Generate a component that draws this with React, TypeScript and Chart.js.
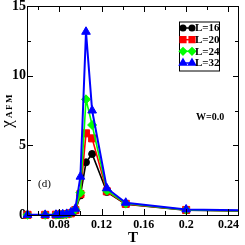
import React, { useEffect, useRef } from 'react';
import { Chart, registerables } from 'chart.js';
import { drawPoint } from 'chart.js/helpers';

Chart.register(...registerables);

const T_VALUES = [0.05, 0.0667, 0.0769, 0.08, 0.0833, 0.087, 0.0909, 0.0952, 0.1, 0.1053, 0.1111, 0.125, 0.1429, 0.2, 0.3333];
const CHI_L16 = [0.01, 0.01, 0.02, 0.02, 0.03, 0.05, 0.1, 0.3, 1.4, 3.78, 4.38, 1.65, 0.78, 0.35, 0.2];
const CHI_L20 = [0.01, 0.01, 0.02, 0.03, 0.04, 0.06, 0.12, 0.35, 1.5, 5.86, 5.5, 1.7, 0.8, 0.36, 0.2];
const CHI_L24 = [0.01, 0.01, 0.02, 0.03, 0.04, 0.07, 0.15, 0.4, 1.6, 8.3, 6.46, 1.75, 0.82, 0.37, 0.2];
const CHI_L32 = [0.01, 0.01, 0.02, 0.03, 0.05, 0.08, 0.18, 0.45, 2.75, 13.15, 7.5, 1.92, 0.88, 0.4, 0.22];

const SERIES_LABELS = ['L=16', 'L=20', 'L=24', 'L=32'];
const SERIES_DATA = [CHI_L16, CHI_L20, CHI_L24, CHI_L32];
const SERIES_COLORS = ['#000000', '#ff0000', '#00ff00', '#0000ff'];
const SERIES_STYLES = ['circle', 'rect', 'rectRot', 'triangle'];
const SERIES_RADII = [3.5, 5, 4.5, 5];

const X_TICKS = [0.06, 0.08, 0.1, 0.12, 0.14, 0.16, 0.18, 0.2, 0.22, 0.24];
const X_TICK_LABELS = ['0.08', '0.12', '0.16', '0.2', '0.24'];
const Y_TICKS = [0, 2.5, 5, 7.5, 10, 12.5, 15];
const Y_TICK_LABELS = ['0', '5', '10', '15'];

const SERIF = '"Liberation Serif", "Times New Roman", serif';

const framePlugin = {
  id: 'frame',
  afterDraw(chart: any) {
    const { ctx, chartArea: ca, scales } = chart;
    const xs = scales.x;
    const ys = scales.y;
    ctx.save();
    ctx.strokeStyle = '#000';
    ctx.lineWidth = 1;
    ctx.strokeRect(ca.left + 0.5, ca.top + 0.5, ca.right - ca.left - 1, ca.bottom - ca.top);
    ctx.beginPath();
    X_TICKS.forEach((v) => {
      const px = Math.round(xs.getPixelForValue(v)) + 0.5;
      const len = X_TICK_LABELS.includes(String(v)) ? 6 : 4;
      ctx.moveTo(px, ca.bottom);
      ctx.lineTo(px, ca.bottom - len);
      ctx.moveTo(px, ca.top);
      ctx.lineTo(px, ca.top + len);
    });
    Y_TICKS.forEach((v) => {
      const py = Math.round(ys.getPixelForValue(v)) + 0.5;
      const len = Y_TICK_LABELS.includes(String(v)) ? 6 : 4;
      ctx.moveTo(ca.left, py);
      ctx.lineTo(ca.left + len, py);
      ctx.moveTo(ca.right, py);
      ctx.lineTo(ca.right - len, py);
    });
    ctx.stroke();

    // annotations
    ctx.fillStyle = '#000';
    ctx.textBaseline = 'middle';
    ctx.textAlign = 'left';
    ctx.font = `11px ${SERIF}`;
    ctx.fillText('(d)', 38, 184);
    ctx.font = `bold 10px ${SERIF}`;
    ctx.fillText('W=0.0', 196, 117);

    // y axis title
    ctx.save();
    ctx.translate(8, 124);
    ctx.rotate(-Math.PI / 2);
    ctx.textAlign = 'center';
    ctx.font = `17px ${SERIF}`;
    ctx.fillText('\u03c7', 0, 0);
    ctx.textAlign = 'left';
    ctx.font = `bold 9px ${SERIF}`;
    (ctx as any).letterSpacing = '1.5px';
    ctx.fillText('AFM', 6, 2);
    ctx.restore();

    // legend
    const bx = 179, by = 21.5, bw = 40, bh = 49;
    ctx.fillStyle = '#fff';
    ctx.fillRect(bx, by, bw, bh);
    ctx.strokeStyle = '#000';
    ctx.lineWidth = 1;
    ctx.strokeRect(bx + 0.5, by + 0.5, bw, bh);
    const rows = [28, 39.7, 51.3, 63];
    SERIES_LABELS.forEach((lab, i) => {
      const y = rows[i];
      const c = SERIES_COLORS[i];
      ctx.strokeStyle = c;
      ctx.fillStyle = c;
      ctx.lineWidth = 1.5;
      ctx.beginPath();
      ctx.moveTo(183, y);
      ctx.lineTo(192, y);
      ctx.stroke();
      const opts = { pointStyle: SERIES_STYLES[i], radius: SERIES_RADII[i] * 0.8, borderWidth: 1, rotation: 0 };
      drawPoint(ctx, opts as any, 183, y);
      drawPoint(ctx, opts as any, 192, y);
      ctx.fillStyle = '#000';
      ctx.font = `bold 11px ${SERIF}`;
      ctx.textAlign = 'left';
      ctx.textBaseline = 'middle';
      ctx.fillText(lab, 195, y + 0.5);
    });
    ctx.restore();
  },
};

export default function App() {
  const ref = useRef<HTMLCanvasElement | null>(null);
  useEffect(() => {
    document.body.style.margin = '0';
    const canvas = ref.current;
    if (!canvas) return;
    const datasets = SERIES_LABELS.map((lab, i) => ({
      label: lab,
      data: T_VALUES.map((t, j) => ({ x: t, y: SERIES_DATA[i][j] })),
      borderColor: SERIES_COLORS[i],
      backgroundColor: SERIES_COLORS[i],
      pointBackgroundColor: SERIES_COLORS[i],
      pointBorderColor: SERIES_COLORS[i],
      pointStyle: SERIES_STYLES[i],
      pointRadius: SERIES_RADII[i],
      pointBorderWidth: 1,
      borderWidth: i === 3 ? 2 : 1.6,
      tension: 0,
      order: 4 - i,
      clip: { left: 6, top: 6, right: 0, bottom: 6 },
    }));
    const chart = new Chart(canvas, {
      type: 'line',
      data: { datasets } as any,
      plugins: [framePlugin],
      options: {
        animation: false,
        responsive: false,
        maintainAspectRatio: false,
        layout: { padding: { left: 0, top: 6, right: 2, bottom: 0 } },
        plugins: { legend: { display: false }, tooltip: { enabled: false } },
        scales: {
          x: {
            type: 'linear',
            min: 0.0495,
            max: 0.25,
            grid: { display: false, drawTicks: false },
            border: { display: false },
            afterBuildTicks: (s: any) => {
              s.ticks = X_TICKS.map((v) => ({ value: v }));
            },
            afterFit: (s: any) => {
              s.height = 30;
              s.paddingLeft = 0;
              s.paddingRight = 0;
            },
            ticks: {
              autoSkip: false,
              maxRotation: 0,
              padding: 3,
              color: '#000',
              font: { family: SERIF, size: 12, weight: 'bold' },
              callback: (v: any) => (X_TICK_LABELS.includes(String(v)) ? String(v) : ''),
            },
            title: {
              display: true,
              text: 'T',
              color: '#000',
              font: { family: SERIF, size: 15, weight: 'bold' },
              padding: { top: 0, bottom: -2 },
            },
          },
          y: {
            type: 'linear',
            min: 0,
            max: 15,
            grid: { display: false, drawTicks: false },
            border: { display: false },
            afterBuildTicks: (s: any) => {
              s.ticks = Y_TICKS.map((v) => ({ value: v }));
            },
            afterFit: (s: any) => {
              s.width = 27;
              s.paddingTop = 0;
              s.paddingBottom = 0;
            },
            ticks: {
              autoSkip: false,
              padding: 1,
              color: '#000',
              font: { family: SERIF, size: 14, weight: 'bold' },
              callback: (v: any) => (Y_TICK_LABELS.includes(String(v)) ? String(v) : ''),
            },
          },
        },
      } as any,
    });
    return () => chart.destroy();
  }, []);
  return (
    <div style={{ width: 245, height: 245 }}>
      <canvas ref={ref} width={245} height={245} style={{ display: 'block', width: 245, height: 245 }} />
    </div>
  );
}
